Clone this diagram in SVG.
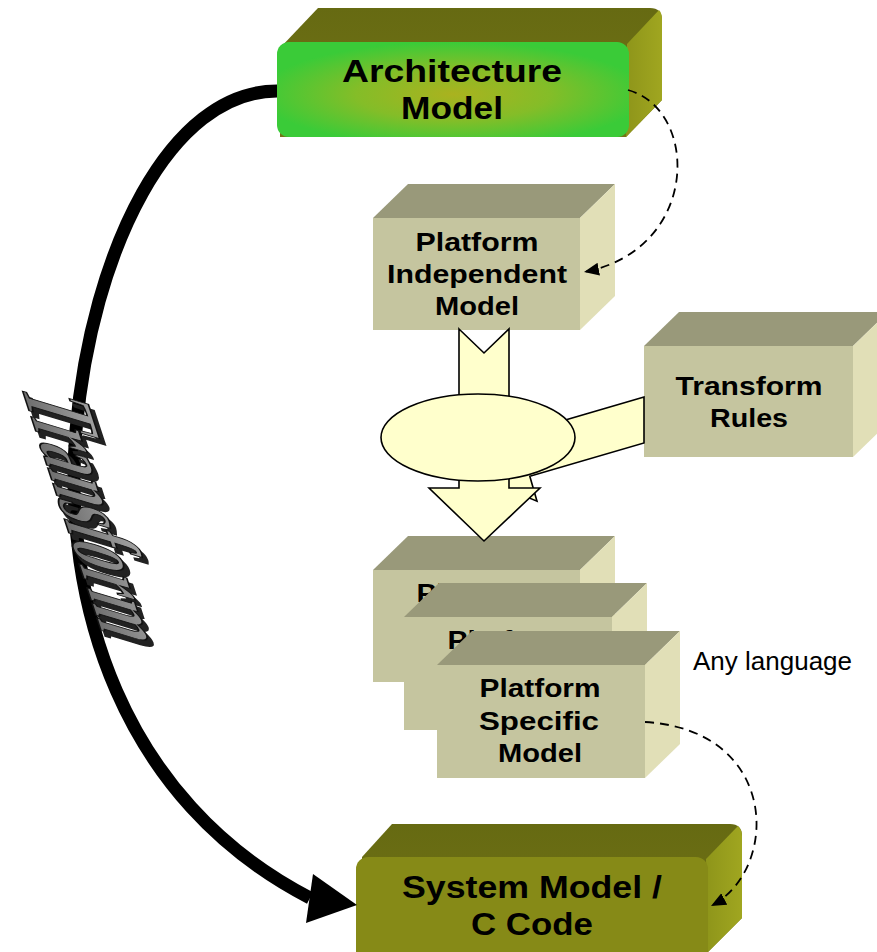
<svg xmlns="http://www.w3.org/2000/svg" width="877" height="952" viewBox="0 0 877 952">
<style>
.bt{font-family:"Liberation Sans",Arial,sans-serif;font-weight:700;fill:#000;text-anchor:middle}
.b25{font-size:25px}
.b32{font-size:32px}
.tf{fill:#99997a}
.ff{fill:#c5c59f}
.rf{fill:#e1dfb7}
.fat{fill:#ffffcc;stroke:#000;stroke-width:1.6;stroke-linejoin:miter}
.dash{fill:none;stroke:#000;stroke-width:1.8;stroke-dasharray:9 6}
.wa{font-family:"Liberation Serif","Times New Roman",serif;font-weight:700;font-size:80px}
</style>
<defs>
<radialGradient id="gArch" cx="0.5" cy="0.55" r="0.55">
<stop offset="0" stop-color="#aab21f"/>
<stop offset="0.5" stop-color="#84bd28"/>
<stop offset="1" stop-color="#3acb38"/>
</radialGradient>
<linearGradient id="gTop" x1="0" y1="0" x2="0" y2="1">
<stop offset="0" stop-color="#666a12"/>
<stop offset="1" stop-color="#737416"/>
</linearGradient>
<linearGradient id="gRight" x1="0" y1="0" x2="1" y2="0">
<stop offset="0" stop-color="#8e951a"/>
<stop offset="1" stop-color="#a0a620"/>
</linearGradient>
<linearGradient id="gWord" x1="0" y1="0" x2="0" y2="1">
<stop offset="0" stop-color="#b0b0b0"/>
<stop offset="0.5" stop-color="#888888"/>
<stop offset="1" stop-color="#5e5e5e"/>
</linearGradient>
<marker id="ah" markerUnits="userSpaceOnUse" markerWidth="16" markerHeight="14" refX="15" refY="6.5" orient="auto">
<path d="M0,0 L15,6.5 L0,13 Z" fill="#000"/>
</marker>
</defs>

<g id="pim">
<polygon class="tf" points="373,218 408,184 615,184 580,218"/>
<polygon class="rf" points="580,218 615,184 615,296 580,330"/>
<rect class="ff" x="373" y="218" width="207" height="112"/>
<text class="bt b25" x="477" y="251" textLength="123" lengthAdjust="spacingAndGlyphs">Platform</text>
<text class="bt b25" x="477" y="283" textLength="180" lengthAdjust="spacingAndGlyphs">Independent</text>
<text class="bt b25" x="477" y="315" textLength="84" lengthAdjust="spacingAndGlyphs">Model</text>
</g>

<g id="transform-rules">
<polygon class="tf" points="644,346 679,312 888,312 853,346"/>
<polygon class="rf" points="853,346 888,312 888,423 853,457"/>
<rect class="ff" x="644" y="346" width="209" height="111"/>
<text class="bt b25" x="749" y="395" textLength="147" lengthAdjust="spacingAndGlyphs">Transform</text>
<text class="bt b25" x="749" y="427" textLength="78" lengthAdjust="spacingAndGlyphs">Rules</text>
</g>

<g id="psm-1">
<polygon class="tf" points="373,570 408,536 615,536 580,570"/>
<polygon class="rf" points="580,570 615,536 615,648 580,682"/>
<rect class="ff" x="373" y="570" width="207" height="112"/>
<text class="bt b25" x="477" y="602" textLength="121" lengthAdjust="spacingAndGlyphs">Platform</text>
<text class="bt b25" x="477" y="635" textLength="120" lengthAdjust="spacingAndGlyphs">Specific</text>
<text class="bt b25" x="477" y="667" textLength="84" lengthAdjust="spacingAndGlyphs">Model</text>
</g>

<g id="psm-2">
<polygon class="tf" points="404,617 439,583 647,583 612,617"/>
<polygon class="rf" points="612,617 647,583 647,696 612,730"/>
<rect class="ff" x="404" y="617" width="208" height="113"/>
<text class="bt b25" x="508" y="649" textLength="121" lengthAdjust="spacingAndGlyphs">Platform</text>
<text class="bt b25" x="508" y="682" textLength="120" lengthAdjust="spacingAndGlyphs">Specific</text>
<text class="bt b25" x="508" y="714" textLength="84" lengthAdjust="spacingAndGlyphs">Model</text>
</g>

<g id="psm-3">
<polygon class="tf" points="437,665 472,631 680,631 645,665"/>
<polygon class="rf" points="645,665 680,631 680,744 645,778"/>
<rect class="ff" x="437" y="665" width="208" height="113"/>
<text class="bt b25" x="540" y="697" textLength="121" lengthAdjust="spacingAndGlyphs">Platform</text>
<text class="bt b25" x="539" y="730" textLength="120" lengthAdjust="spacingAndGlyphs">Specific</text>
<text class="bt b25" x="540" y="762" textLength="84" lengthAdjust="spacingAndGlyphs">Model</text>
</g>

<g id="any-language">
<text x="693" y="670" font-family="'Liberation Sans',Arial,sans-serif" font-size="25" textLength="159" lengthAdjust="spacingAndGlyphs">Any language</text>
</g>

<g id="architecture-model">
<path d="M280,48 L318,8 L650,8 Q662,8 662,20 L662,100 L626,137 L280,137 Z" fill="url(#gTop)"/>
<path d="M627,44 L659,10 Q662,13 662,20 L662,100 L626,137 Z" fill="url(#gRight)"/>
<rect x="277" y="42" width="352" height="95" rx="12" fill="url(#gArch)"/>
<text class="bt b32" x="452" y="82" textLength="220" lengthAdjust="spacingAndGlyphs">Architecture</text>
<text class="bt b32" x="452" y="119" textLength="102" lengthAdjust="spacingAndGlyphs">Model</text>
</g>

<g id="system-model">
<path d="M362,857 L392,824 L730,824 Q742,824 742,836 L742,918 L708,952 L362,952 Z" fill="url(#gTop)"/>
<path d="M706,859 L738,826 Q742,830 742,836 L742,918 L708,952 Z" fill="url(#gRight)"/>
<rect x="356" y="857" width="352" height="120" rx="12" fill="#868a17"/>
<text class="bt b32" x="532" y="898" textLength="260" lengthAdjust="spacingAndGlyphs">System Model /</text>
<text class="bt b32" x="532" y="935" textLength="122" lengthAdjust="spacingAndGlyphs">C Code</text>
</g>

<g id="transform-step">
<polygon class="fat" points="644,397.1 517.4,434 510.2,409 466.4,471.8 537,501.2 529.8,476.2 644,442.9"/>
<polygon class="fat" points="459,329 484,353 509,329 509,488 540,488 484,541 429,488 459,488"/>
<ellipse cx="478" cy="437.5" rx="97" ry="43.5" class="fat"/>
</g>

<g id="connectors">
<path d="M277,91 C170,91 92,250 76,430 C62,600 120,800 310,898" fill="none" stroke="#000" stroke-width="13"/>
<polygon points="313,874 357,905 306,923" fill="#000"/>
<path class="dash" d="M628,90 C700,110 700,250 584,272" marker-end="url(#ah)"/>
<path class="dash" d="M645,722 C780,730 780,870 711,906" marker-end="url(#ah)"/>
</g>

<g id="wordart-transform">
<text class="wa" transform="matrix(0.24 0.735 -1.3 -0.39 25 389)" textLength="338" lengthAdjust="spacingAndGlyphs" fill="#222" stroke="#222" stroke-width="2.5">Transform</text>
<text class="wa" transform="matrix(0.24 0.735 -1.3 -0.39 20 383)" textLength="338" lengthAdjust="spacingAndGlyphs" fill="url(#gWord)" stroke="#111" stroke-width="1.4">Transform</text>
</g>
</svg>
